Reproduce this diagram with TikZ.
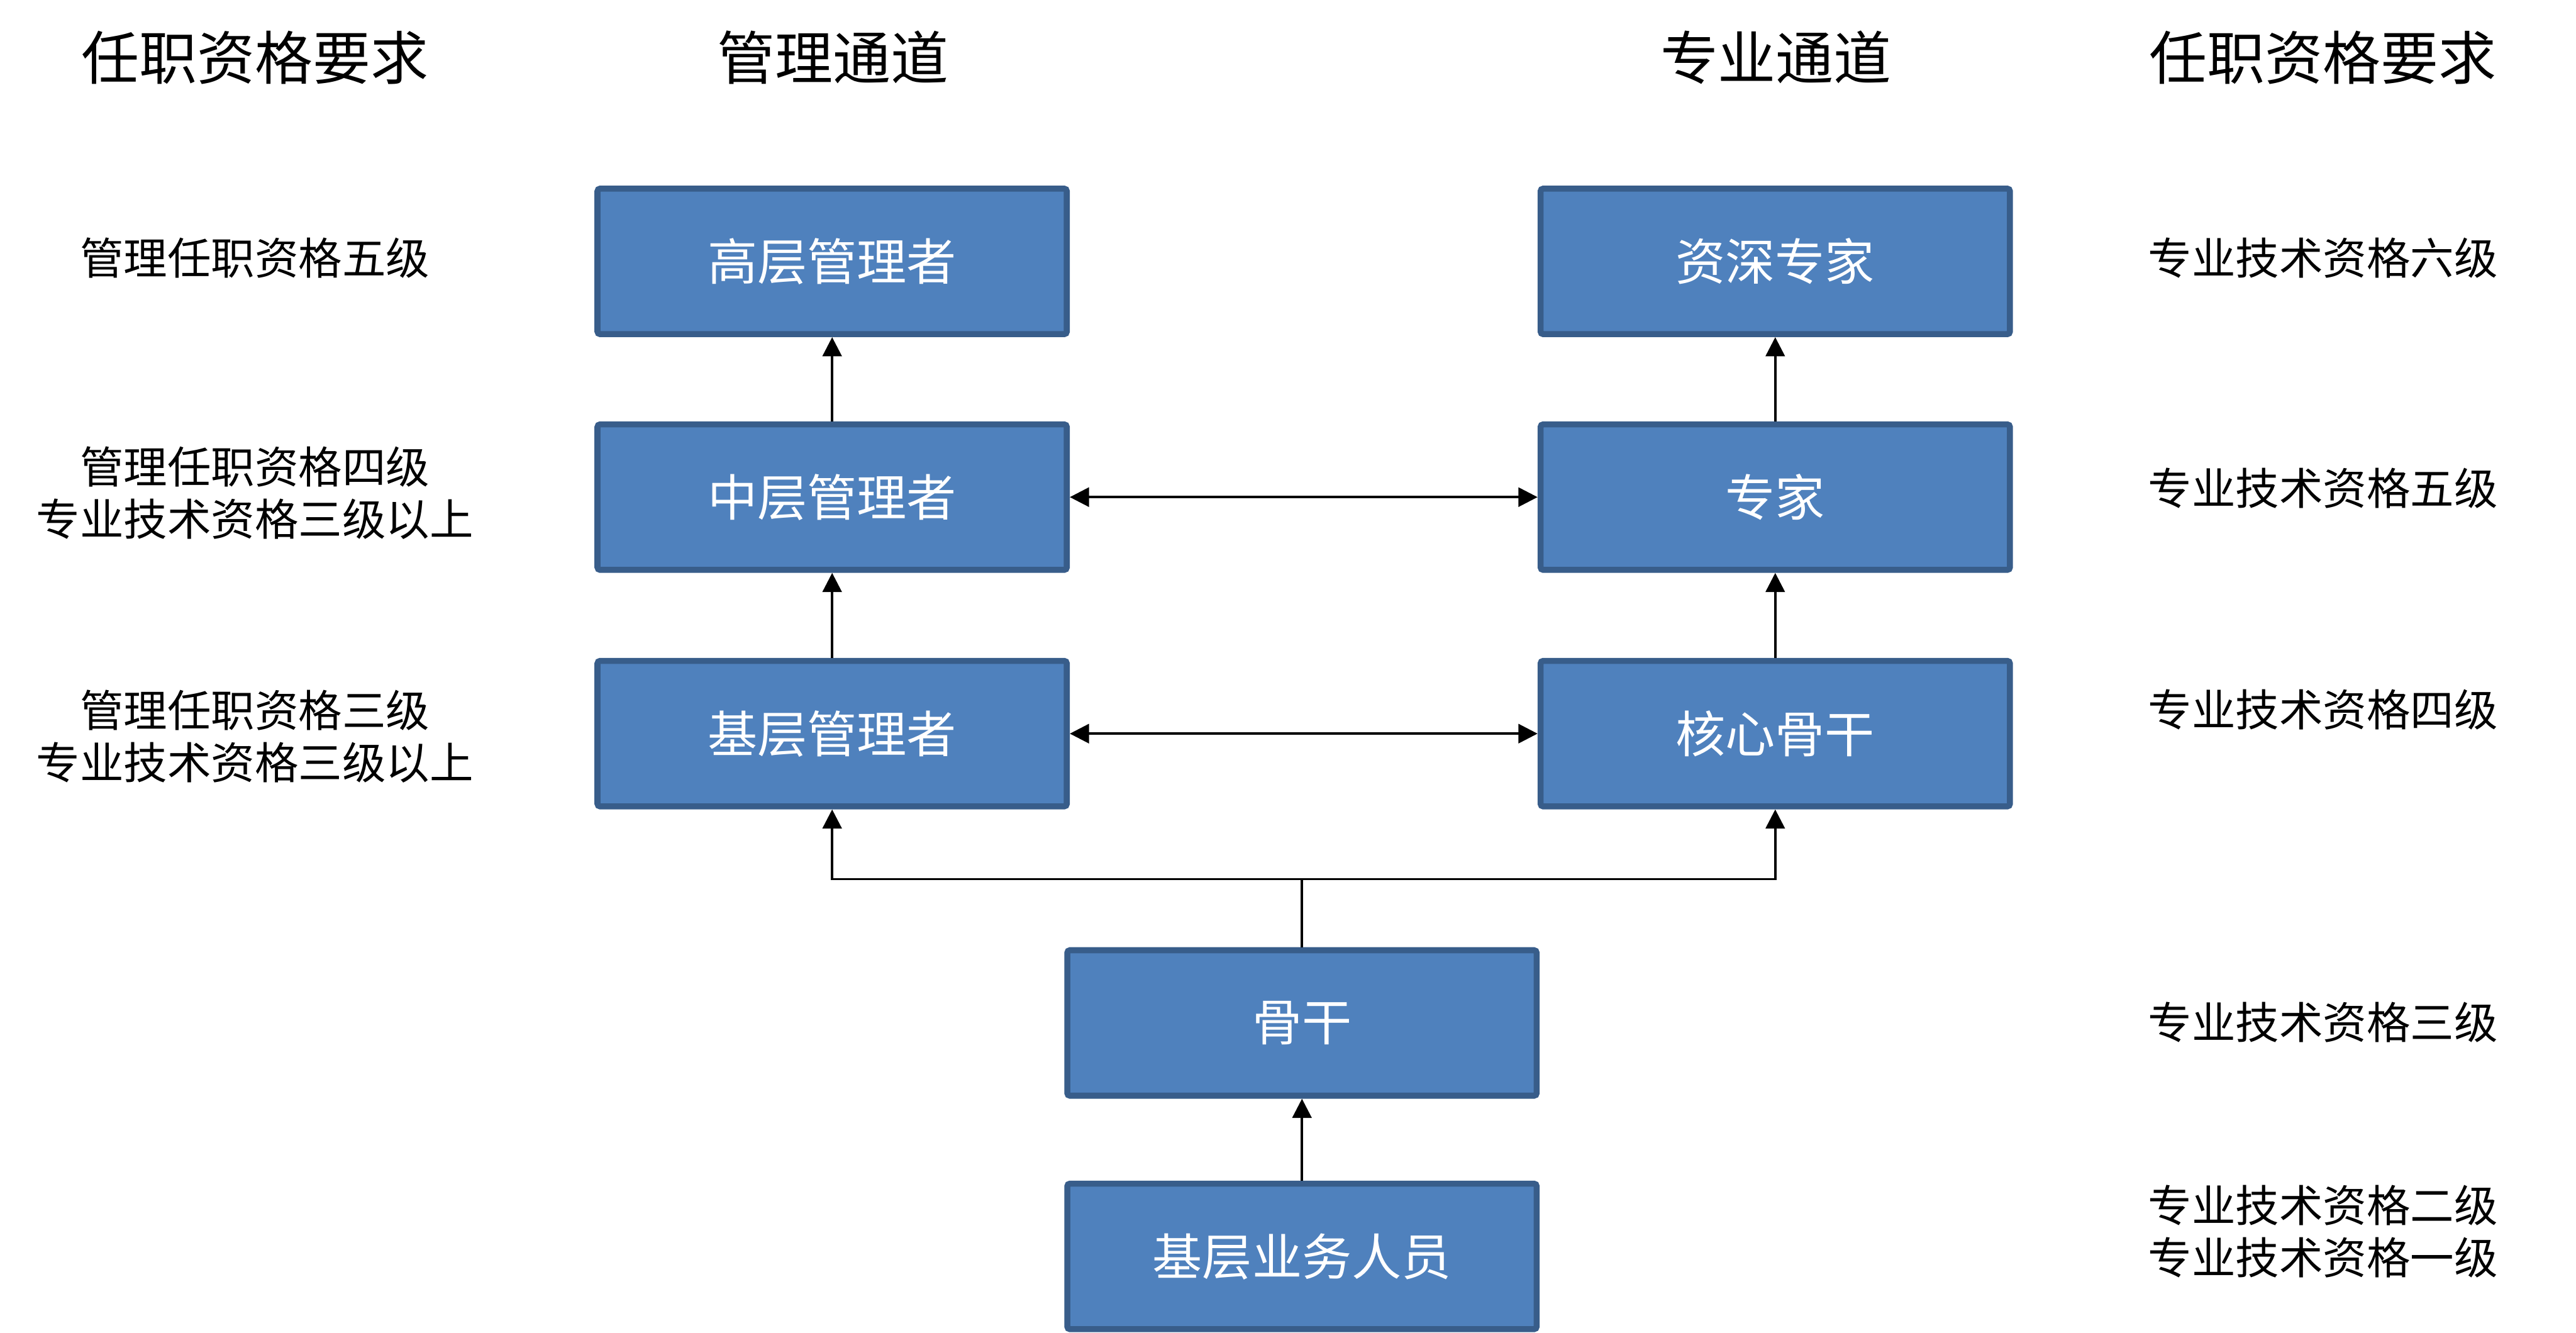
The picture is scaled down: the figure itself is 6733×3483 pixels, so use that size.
\documentclass[tikz,border=0pt]{standalone}
\usepackage{fontspec}
\setmainfont{Noto Sans CJK SC}
\usetikzlibrary{arrows.meta}
\definecolor{boxfill}{HTML}{4F81BD}
\definecolor{boxline}{HTML}{385D8A}
\begin{document}
\begin{tikzpicture}[x=0.01cm,y=-0.01cm,
 box/.style={draw=boxline, fill=boxfill, line width=4.5pt, rounded corners=2pt, minimum width=12.26cm, minimum height=3.80cm, text=white, font=\fontsize{37}{44}\selectfont, inner sep=0pt},
 head/.style={font=\fontsize{43}{50}\selectfont},
 req/.style={font=\fontsize{32.5}{39}\selectfont, align=center},
 conn/.style={line width=1.7pt, -{Triangle[length=0.5cm,width=0.5cm]}},
 conn2/.style={line width=1.7pt, {Triangle[length=0.5cm,width=0.5cm]}-{Triangle[length=0.5cm,width=0.5cm]}},
 link/.style={line width=1.7pt}]
\useasboundingbox (0,0) rectangle (6733,3483);
% headers
\node[head] (h1) at (666,150) {任职资格要求};
\node[head] (h2) at (2177,150) {管理通道};
\node[head] (h3) at (4642,150) {专业通道};
\node[head] (h4) at (6072,150) {任职资格要求};
% boxes
\node[box] (g1) at (2175,683) {高层管理者};
\node[box] (g2) at (2175,1299) {中层管理者};
\node[box] (g3) at (2175,1917) {基层管理者};
\node[box] (z1) at (4640,683) {资深专家};
\node[box] (z2) at (4640,1299) {专家};
\node[box] (z3) at (4640,1917) {核心骨干};
\node[box] (gg) at (3403,2673) {骨干};
\node[box] (jc) at (3403,3283) {基层业务人员};
% left requirements
\node[req] (l1) at (666,674) {管理任职资格五级};
\node[req] (l2) at (666,1288) {管理任职资格四级\\专业技术资格三级以上};
\node[req] (l3) at (666,1924) {管理任职资格三级\\专业技术资格三级以上};
% right requirements
\node[req] (r1) at (6072,674) {专业技术资格六级};
\node[req] (r2) at (6072,1275) {专业技术资格五级};
\node[req] (r3) at (6072,1855) {专业技术资格四级};
\node[req] (r4) at (6072,2671) {专业技术资格三级};
\node[req] (r5) at (6072,3218) {专业技术资格二级\\专业技术资格一级};
% connectors
\draw[conn] (g2) -- (g1);
\draw[conn] (z2) -- (z1);
\draw[conn] (g3) -- (g2);
\draw[conn] (z3) -- (z2);
\draw[conn2] (g2) -- (z2);
\draw[conn2] (g3) -- (z3);
\coordinate (split) at (3403,2297);
\draw[link] (gg.north) -- (split);
\draw[conn] (split) -| (g3.south);
\draw[conn] (split) -| (z3.south);
\draw[conn] (jc) -- (gg);
\end{tikzpicture}
\end{document}
